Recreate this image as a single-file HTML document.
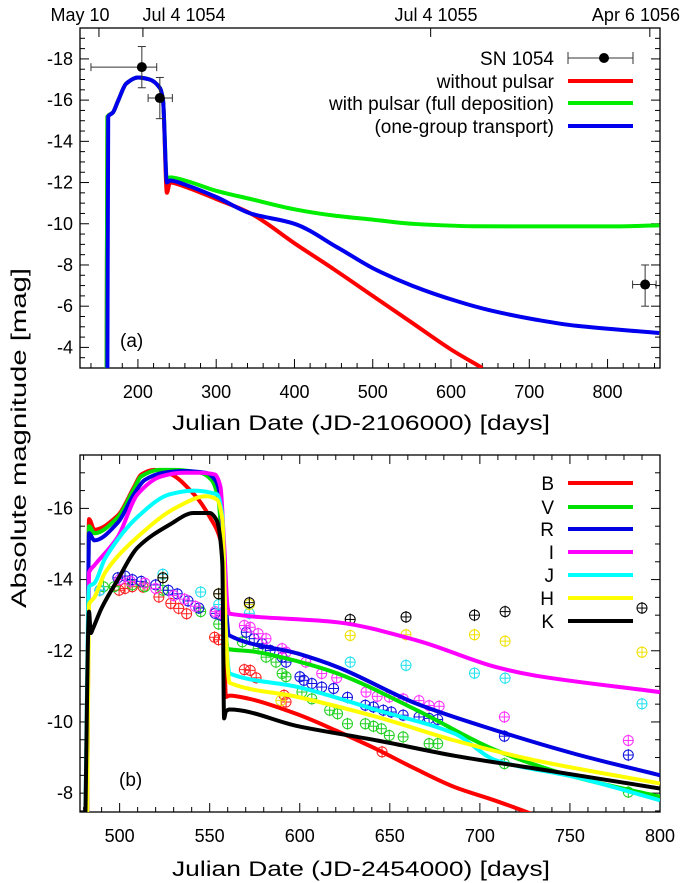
<!DOCTYPE html>
<html><head><meta charset="utf-8"><style>
html,body{margin:0;padding:0;background:#fff;}
svg{display:block;font-family:"Liberation Sans",sans-serif;}
</style></head><body>
<svg id="chart" width="683" height="883" viewBox="0 0 683 883" xmlns="http://www.w3.org/2000/svg">
<defs>
<clipPath id="clipA"><rect x="80" y="28" width="580" height="340"/></clipPath>
<clipPath id="clipB"><rect x="80" y="455" width="580" height="357"/></clipPath>
</defs>
<rect x="0" y="0" width="683" height="883" fill="#fff"/>
<g id="panelA"></g>
<g id="panelB"></g>
<text x="26" y="438" font-size="21" text-anchor="middle" transform="rotate(-90 26 438)" textLength="340" lengthAdjust="spacingAndGlyphs">Absolute magnitude [mag]</text>
</svg>
<script>
// ---------- Panel (a) data ----------
const aRedDays  = [160,161,168,175,185,200,215,228,232,237,241,260,300,344,400,450,500,550,600,640];
const aRedMags  = [-3,-15.2,-15.4,-16.0,-16.8,-17.1,-17.0,-16.6,-16.0,-11.5,-12.0,-11.8,-11.2,-10.5,-9.05,-7.8,-6.5,-5.2,-3.9,-3.0];
const aGreenDays= [160,161,168,175,185,200,215,228,232,237,241,260,300,344,400,450,500,550,628,700,800,866];
const aGreenMags= [-3,-15.2,-15.4,-16.0,-16.8,-17.1,-17.0,-16.6,-16.0,-12.1,-12.25,-12.1,-11.6,-11.2,-10.7,-10.4,-10.2,-10.0,-9.88,-9.87,-9.87,-9.92];
const aBlueDays = [161,162,168,175,185,200,215,228,232,237,241,260,300,344,400,455,500,550,607,650,708,760,866];
const aBlueMags = [-3,-15.2,-15.4,-16.0,-16.8,-17.1,-17.0,-16.6,-16.0,-12.0,-12.1,-11.9,-11.3,-10.5,-10.0,-8.85,-7.85,-7.0,-6.25,-5.8,-5.35,-5.05,-4.7];
const aObsDays  = [205,228,848];
const aObsMags  = [-17.6,-16.1,-7.05];
const aObsXLo   = [140,213,832];
const aObsXHi   = [224,244,862];
const aObsYLo   = [-18.6,-17.1,-8.0];
const aObsYHi   = [-16.6,-15.1,-6.0];
const aXTicks   = [200,300,400,500,600,700,800];
const aYTicks   = [-18,-16,-14,-12,-10,-8,-6,-4];
const aTopDays  = [150.2,206.4,574,854];
const aTopLabels= ["May 10","Jul 4 1054","Jul 4 1055","Apr 6 1056"];

// ---------- Panel (b) data ----------
const bands = ["B","V","R","I","J","H","K"];
const bandColors = ["#ff0000","#00e000","#0000e0","#ff00ff","#00ffff","#ffff00","#000000"];
const bDaysB = [482,483,486,499,508,512,519,528,541,550,557,559,561,572,598,620,642,664,686,708,735];
const bMagsB = [-7.4,-15.7,-15.4,-15.8,-16.6,-16.95,-17.08,-16.97,-16.41,-15.76,-14.9,-10.7,-10.74,-10.65,-10.23,-9.76,-9.25,-8.69,-8.17,-7.8,-7.3];
const bDaysV = [482,483,486,499,508,512,522,530,545,551,555,558,560,574,599,621,665,709,753,800];
const bMagsV = [-7.4,-15.5,-15.3,-15.75,-16.55,-16.9,-17.08,-17.08,-17.0,-16.8,-16.2,-13.5,-12.05,-11.98,-11.7,-11.36,-10.33,-9.2,-8.45,-7.9];
const bDaysR = [482,483,486,499,508,514,524,535,548,553,556,558,561,599,621,665,709,753,800];
const bMagsR = [-7.4,-15.3,-15.1,-15.6,-16.4,-16.8,-17.0,-17.05,-17.0,-16.8,-16.3,-14.0,-12.43,-11.92,-11.54,-10.51,-9.76,-9.1,-8.5];
const bDaysI = [482,483,486,499,510,523,535,545,553,556,558,560,561,621,665,709,731,800];
const bMagsI = [-7.4,-14.2,-14.4,-15.2,-16.4,-16.9,-17.0,-17.0,-16.95,-16.6,-15.0,-13.2,-13.04,-12.8,-12.29,-11.54,-11.3,-10.84];
const bDaysJ = [481,483,486,492,510,528,541,554,557,559,561,599,643,686,709,753,800];
const bMagsJ = [-7.4,-13.8,-13.9,-14.6,-15.76,-16.4,-16.5,-16.4,-15.8,-12.5,-11.36,-10.98,-10.33,-9.67,-8.92,-8.45,-7.8];
const bDaysH = [482,483,486,492,510,532,548,554,557,559,561,599,643,686,731,800];
const bMagsH = [-7.4,-13.3,-13.5,-14.2,-15.2,-16.04,-16.34,-16.25,-15.7,-12.5,-11.1,-10.7,-10.14,-9.48,-8.92,-8.27];
const bDaysK = [481,483,484,485,490,499,510,528,541,550,554,557,558,559,561,599,643,686,731,800];
const bMagsK = [-7.4,-13.1,-12.5,-12.6,-13.2,-14.0,-14.9,-15.55,-15.87,-15.87,-15.65,-14.5,-10.1,-10.3,-10.35,-9.88,-9.48,-9.05,-8.69,-8.13];

const obsDaysB = [499.7,503,507,513,521.8,528.4,532.8,537.2,552.7,554.9,569.2,572.5,575.8,591.3,592.4,645.7];
const obsMagsB = [-13.7,-13.75,-13.8,-13.79,-13.51,-13.33,-13.19,-13.04,-12.38,-12.31,-11.47,-11.45,-11.24,-10.75,-10.56,-9.16];
const obsDaysV = [491,497,507,514,524,545,555,568.1,576.9,581.3,586.8,590.2,592.4,601.2,606.7,616.6,621,626.5,636.4,640.9,645.3,649.7,657.4,671.8,676.6,713.6,782.4];
const obsMagsV = [-13.8,-13.8,-13.85,-13.8,-13.7,-13.1,-12.75,-12.25,-12.06,-11.82,-11.68,-11.36,-11.27,-10.84,-10.65,-10.33,-10.23,-9.95,-9.95,-9.88,-9.81,-9.62,-9.58,-9.39,-9.39,-8.83,-8.03];
const obsDaysR = [489,499,503,507,512,520,527,532,538,544,553,556,570.3,574.7,579.1,583.6,590.2,592.4,600.1,602.3,606.7,612.2,618.8,626.5,636.4,640.9,646.4,650.8,657.4,666.2,671.8,676.6,713.6,782.4];
const obsMagsR = [-13.7,-14.05,-14.1,-14.0,-13.95,-13.85,-13.7,-13.6,-13.4,-13.2,-13.05,-13.0,-12.52,-12.34,-12.2,-12.01,-11.82,-11.68,-11.27,-11.17,-11.08,-10.98,-10.94,-10.69,-10.47,-10.42,-10.33,-10.28,-10.19,-10.14,-10.1,-10.07,-9.6,-9.07];
const obsDaysI = [500,506,514,520,530,536,542,553,556,569.2,572.5,576.9,581.3,590.2,592.4,603.4,612.2,620.5,636.8,643,649.7,657.4,666.2,671.8,677.4,713.6,782.4];
const obsMagsI = [-14.0,-13.95,-13.9,-13.75,-13.55,-13.45,-13.25,-13.1,-13.05,-12.71,-12.66,-12.48,-12.34,-12.06,-11.96,-11.68,-11.36,-11.24,-10.84,-10.72,-10.7,-10.65,-10.6,-10.46,-10.44,-10.14,-9.48];
const obsDaysJ = [489,524,545,555,572,628,659,697,714,790];
const obsMagsJ = [-13.7,-14.15,-13.65,-13.3,-13.05,-11.68,-11.59,-11.37,-11.23,-10.51];
const obsDaysH = [524,555,572,589.5,628,659,697,714,790];
const obsMagsH = [-14.05,-13.6,-13.3,-10.6,-12.43,-12.45,-12.45,-12.27,-11.96];
const obsDaysK = [524,555,572,628,659,697,714,790];
const obsMagsK = [-14.05,-13.6,-13.35,-12.88,-12.95,-13.0,-13.1,-13.2];
const bXTicks = [500,550,600,650,700,750,800];
const bYTicks = [-16,-14,-12,-10,-8];

const NS = "http://www.w3.org/2000/svg";
function mk(tag, attrs, parent){ const e=document.createElementNS(NS,tag); for(const k in attrs) e.setAttribute(k,attrs[k]); parent.appendChild(e); return e; }

const A = {x0:80,x1:660,y0:28,y1:368,d0:126,d1:867,m0:-19.5,m1:-3};
const B = {x0:80,x1:660,y0:455,y1:812,d0:478,d1:800,m0:-17.5,m1:-7.47};
function xa(d){ return A.x0+(d-A.d0)/(A.d1-A.d0)*(A.x1-A.x0); }
function ya(m){ return A.y0+(m-A.m0)/(A.m1-A.m0)*(A.y1-A.y0); }
function xb(d){ return B.x0+(d-B.d0)/(B.d1-B.d0)*(B.x1-B.x0); }
function yb(m){ return B.y0+(m-B.m0)/(B.m1-B.m0)*(B.y1-B.y0); }

// monotone cubic (Fritsch-Carlson) path
function pathD(days, mags, fx, fy){
  const X=days.map(fx), Y=mags.map(fy), n=X.length;
  if(n<3) return X.map((x,i)=>(i?"L":"M")+x+" "+Y[i]).join(" ");
  const s=[]; for(let i=0;i<n-1;i++){ const h=X[i+1]-X[i]; s.push(h>0?(Y[i+1]-Y[i])/h:0); }
  const m=new Array(n);
  m[0]=s[0]; m[n-1]=s[n-2];
  for(let i=1;i<n-1;i++){ m[i]=(s[i-1]*s[i]<=0)?0:(2/(1/s[i-1]+1/s[i])); }
  let d="M"+X[0].toFixed(1)+" "+Y[0].toFixed(1);
  for(let i=0;i<n-1;i++){
    const h=(X[i+1]-X[i])/3;
    d+=" C"+(X[i]+h).toFixed(1)+" "+(Y[i]+m[i]*h).toFixed(1)+" "+(X[i+1]-h).toFixed(1)+" "+(Y[i+1]-m[i+1]*h).toFixed(1)+" "+X[i+1].toFixed(1)+" "+Y[i+1].toFixed(1);
  }
  return d;
}

function frame(g, P, fx, fy, xt, xMinorStep, yt, name){
  const f = mk("rect",{x:P.x0,y:P.y0,width:P.x1-P.x0,height:P.y1-P.y0,fill:"none",stroke:"#000","stroke-width":1.3},g);
  
  
  for(let d=Math.ceil(P.d0/xMinorStep)*xMinorStep; d<=P.d1; d+=xMinorStep){
    const isMaj = xt.indexOf(d)>=0; const L = isMaj?9:5; const x=fx(d);
    mk("line",{x1:x,y1:P.y1,x2:x,y2:P.y1-L,stroke:"#000","stroke-width":1},g);
    if(name==="panel-b") mk("line",{x1:x,y1:P.y0,x2:x,y2:P.y0+L,stroke:"#000","stroke-width":1},g);
  }
  for(let m=Math.ceil(P.m0*2)/2; m<=P.m1; m+=0.5){
    const isMaj = Math.abs(m%2)<1e-6; const L=isMaj?9:5; const y=fy(m);
    mk("line",{x1:P.x0,y1:y,x2:P.x0+L,y2:y,stroke:"#000","stroke-width":1},g);
    mk("line",{x1:P.x1,y1:y,x2:P.x1-L,y2:y,stroke:"#000","stroke-width":1},g);
  }
  xt.forEach(d=>{
    const t = mk("text",{x:fx(d),y:P.y1+30,"font-size":18,"text-anchor":"middle"},g);
    t.textContent = d;
    
    
  });
  yt.forEach(m=>{
    const t = mk("text",{x:P.x0-7,y:fy(m)+6,"font-size":18,"text-anchor":"end"},g);
    t.textContent = m;
    
    
  });
}

// ----- Panel A -----
const gA = document.getElementById("panelA");
frame(gA, A, xa, ya, aXTicks, 20, aYTicks, "panel-a");
aTopDays.forEach((d,i)=>{
  mk("line",{x1:xa(d),y1:A.y0,x2:xa(d),y2:A.y0+9,stroke:"#000","stroke-width":1},gA);
});
const topX=[80,184,436,626];
aTopLabels.forEach((s,i)=>{
  const t = mk("text",{x:(i===3?680:topX[i]),y:21,"font-size":18,"text-anchor":(i===3?"end":"middle")},gA);
  t.textContent = s;
  
  
});
const xtA = mk("text",{x:361,y:430,"font-size":21,"text-anchor":"middle",textLength:378,lengthAdjust:"spacingAndGlyphs"},gA);
xtA.textContent = "Julian Date (JD-2106000)  [days]";


const la = mk("text",{x:120,y:347,"font-size":19},gA);
la.textContent="(a)";



const cA = mk("g",{"clip-path":"url(#clipA)"},gA);
[[aRedDays,aRedMags,"#ff0000","line-without-pulsar"],[aGreenDays,aGreenMags,"#00ee00","line-with-pulsar"],[aBlueDays,aBlueMags,"#0000ee","line-one-group-transport"]].forEach(s=>{
  const p = mk("path",{d:pathD(s[0],s[1],xa,ya),fill:"none",stroke:s[2],"stroke-width":4,"stroke-linejoin":"round"},cA);
  
  
});
aObsDays.forEach((d,i)=>{
  const g = mk("g",{},gA);
  
  
  const x=xa(d), y=ya(aObsMags[i]);
  const x1=xa(aObsXLo[i]), x2=xa(aObsXHi[i]), y1=ya(aObsYLo[i]), y2=ya(aObsYHi[i]);
  mk("line",{x1:x1,y1:y,x2:x2,y2:y,stroke:"#333","stroke-width":1},g);
  mk("line",{x1:x1,y1:y-4,x2:x1,y2:y+4,stroke:"#333","stroke-width":1},g);
  mk("line",{x1:x2,y1:y-4,x2:x2,y2:y+4,stroke:"#333","stroke-width":1},g);
  mk("line",{x1:x,y1:y1,x2:x,y2:y2,stroke:"#333","stroke-width":1},g);
  mk("line",{x1:x-4,y1:y1,x2:x+4,y2:y1,stroke:"#333","stroke-width":1},g);
  mk("line",{x1:x-4,y1:y2,x2:x+4,y2:y2,stroke:"#333","stroke-width":1},g);
  mk("circle",{cx:x,cy:y,r:5,fill:"#000"},g);
});
const legA = [["SN 1054",null],["without pulsar","#ff0000"],["with pulsar (full deposition)","#00ee00"],["(one-group transport)","#0000ee"]];
const legAY=[58,81,103,126];
legA.forEach((l,i)=>{
  const g = mk("g",{},gA);
  
  
  const t = mk("text",{x:554,y:legAY[i]+7,"font-size":19,"text-anchor":"end"},g);
  t.textContent=l[0];
  if(l[1]){ mk("line",{x1:568,y1:legAY[i],x2:633,y2:legAY[i],stroke:l[1],"stroke-width":4},g); }
  else {
    mk("line",{x1:568,y1:legAY[i],x2:633,y2:legAY[i],stroke:"#333","stroke-width":1},g);
    mk("line",{x1:568,y1:legAY[i]-6,x2:568,y2:legAY[i]+6,stroke:"#333","stroke-width":1},g);
    mk("line",{x1:633,y1:legAY[i]-6,x2:633,y2:legAY[i]+6,stroke:"#333","stroke-width":1},g);
    mk("circle",{cx:604,cy:legAY[i],r:5,fill:"#000"},g);
  }
});

// ----- Panel B -----
const gB = document.getElementById("panelB");
frame(gB, B, xb, yb, bXTicks, 10, bYTicks, "panel-b");
const xtB = mk("text",{x:361,y:876,"font-size":21,"text-anchor":"middle",textLength:378,lengthAdjust:"spacingAndGlyphs"},gB);
xtB.textContent = "Julian Date (JD-2454000)  [days]";


const lb = mk("text",{x:119,y:786,"font-size":19},gB);
lb.textContent="(b)";



const cB = mk("g",{"clip-path":"url(#clipB)"},gB);
const curveDays=[bDaysB,bDaysV,bDaysR,bDaysI,bDaysJ,bDaysH,bDaysK];
const curveMags=[bMagsB,bMagsV,bMagsR,bMagsI,bMagsJ,bMagsH,bMagsK];
const obsD=[obsDaysB,obsDaysV,obsDaysR,obsDaysI,obsDaysJ,obsDaysH,obsDaysK];
const obsM=[obsMagsB,obsMagsV,obsMagsR,obsMagsI,obsMagsJ,obsMagsH,obsMagsK];
const ptCols=["#ff2020","#20d020","#1010e0","#ff30ff","#20e0f0","#f0e000","#000000"];
obsD.forEach((arr,bi)=>{
  arr.forEach((d,i)=>{
    const g = mk("g",{},cB);
    
    
    const x=xb(d), y=yb(obsM[bi][i]);
    mk("circle",{cx:x,cy:y,r:5,fill:"none",stroke:ptCols[bi],"stroke-width":1},g);
    mk("line",{x1:x-5,y1:y,x2:x+5,y2:y,stroke:ptCols[bi],"stroke-width":1},g);
    mk("line",{x1:x,y1:y-6,x2:x,y2:y+6,stroke:ptCols[bi],"stroke-width":1},g);
  });
});
curveDays.forEach((days,bi)=>{
  const p = mk("path",{d:pathD(days,curveMags[bi],xb,yb),fill:"none",stroke:bandColors[bi],"stroke-width":4,"stroke-linejoin":"round"},cB);
  
  
});
const legBY=[483,507,529,552,575,598,621];
bands.forEach((b,i)=>{
  const g = mk("g",{},gB);
  
  
  const t = mk("text",{x:554,y:legBY[i]+7,"font-size":19,"text-anchor":"end"},g);
  t.textContent=b;
  mk("line",{x1:568,y1:legBY[i],x2:633,y2:legBY[i],stroke:bandColors[i],"stroke-width":4},g);
});
</script>
</body></html>
